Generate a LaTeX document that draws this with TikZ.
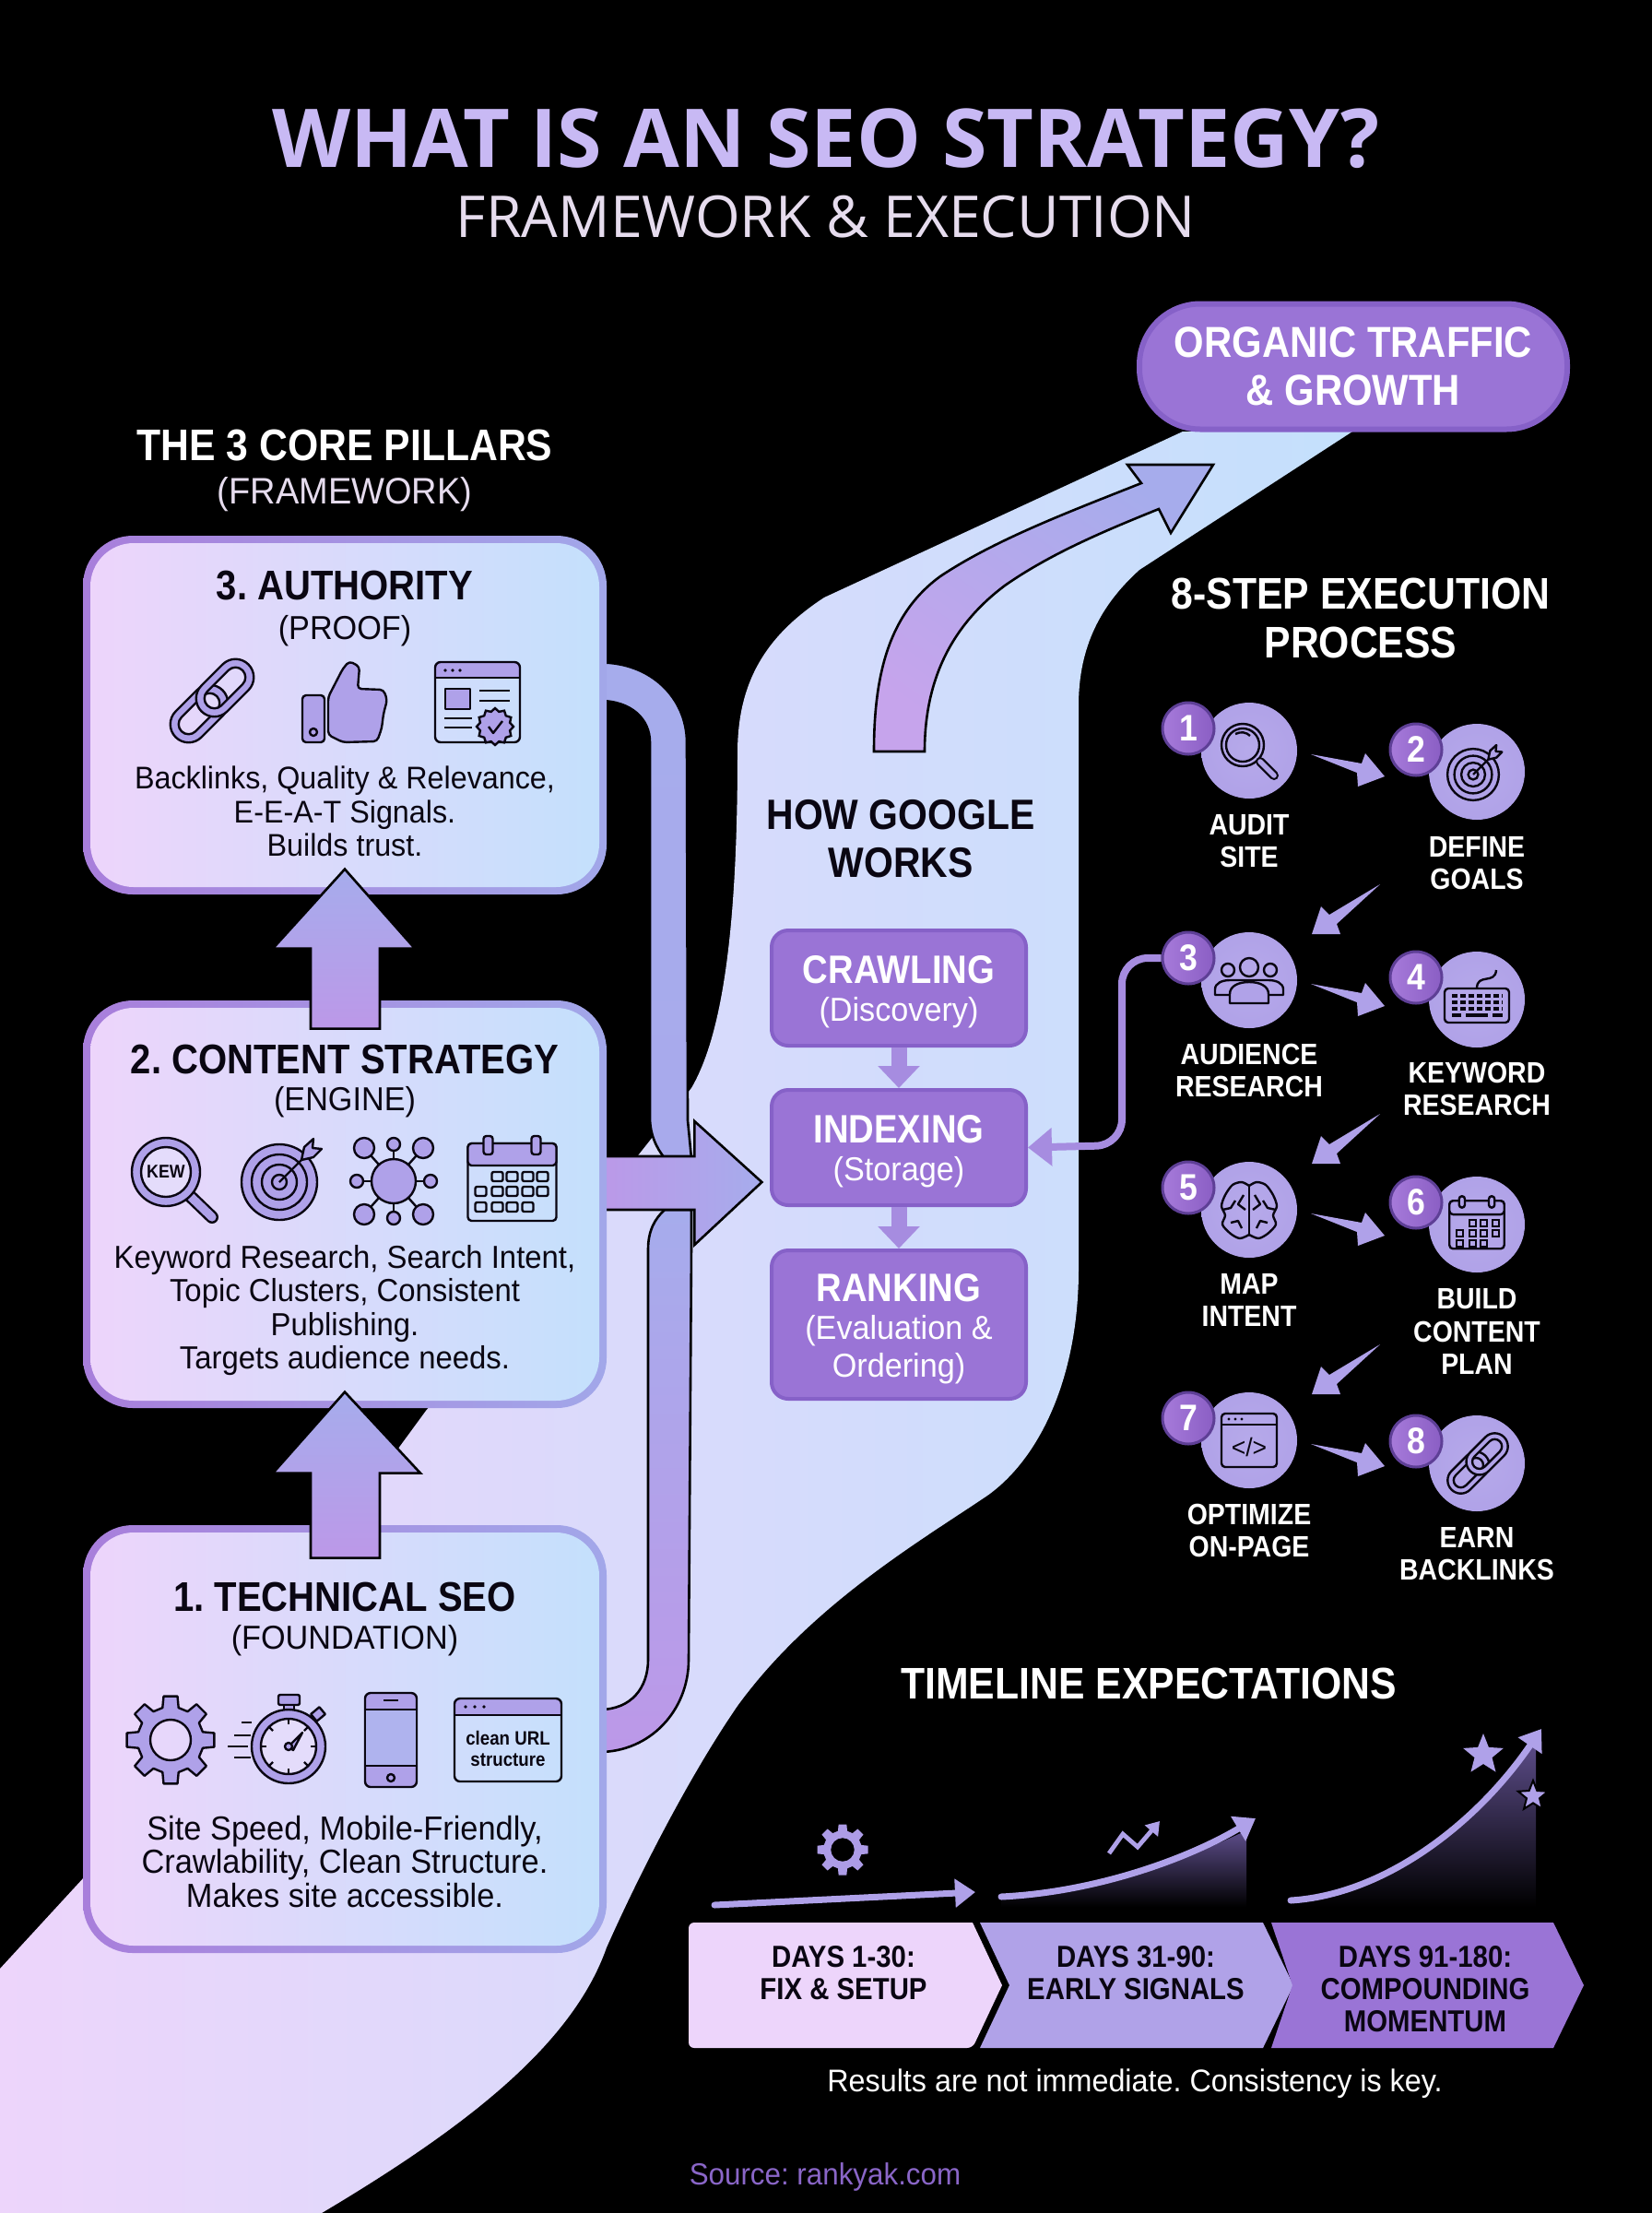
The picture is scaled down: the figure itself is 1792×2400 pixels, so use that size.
\documentclass[tikz,border=0pt]{standalone}
\usepackage{fontspec}
\setmainfont{Liberation Sans}[UprightFeatures={FakeStretch=0.95},BoldFeatures={FakeStretch=0.89}]
\newfontfamily\titlefont{Open Sans}
\frenchspacing
\usetikzlibrary{arrows.meta,shapes.geometric}
\definecolor{riverpink}{HTML}{EDD5FB}
\definecolor{riverblue}{HTML}{C4E0FC}
\definecolor{rimpurple}{HTML}{A87EDB}
\definecolor{rimblue}{HTML}{A2A7E9}
\definecolor{iconviolet}{HTML}{AFA1E9}
\definecolor{iconpale}{HTML}{E4DCFB}
\definecolor{stepviolet}{HTML}{B0A2E8}
\definecolor{stagepurple}{HTML}{9A74D6}
\definecolor{stagerim}{HTML}{8661C8}
\definecolor{bandpink}{HTML}{BC98E8}
\definecolor{bandblue}{HTML}{A6ACEC}
\definecolor{flowviolet}{HTML}{A68CE0}
\definecolor{badgelight}{HTML}{A67ADA}
\definecolor{badgedark}{HTML}{8A5EC4}
\definecolor{badgerim}{HTML}{5E3F96}
\definecolor{titlelilac}{HTML}{C8B9F4}
\definecolor{subtitlepale}{HTML}{E6DCEE}
\definecolor{sourcepurple}{HTML}{8A66C8}
\definecolor{inkblack}{HTML}{0A0612}
\definecolor{fadeviolet}{HTML}{5E4E8C}
\pgfdeclarelayer{back}
\pgfsetlayers{back,main}
\newcommand{\linkring}[1]{%
  \draw[pic actions,even odd rule] (#1-18,-22) -- (#1+18,-22) arc[start angle=-90,end angle=90,radius=22] -- (#1-18,22) arc[start angle=90,end angle=270,radius=22] -- cycle
    (#1-18,-12) -- (#1+18,-12) arc[start angle=-90,end angle=90,radius=12] -- (#1-18,12) arc[start angle=90,end angle=270,radius=12] -- cycle;}
\newcommand{\stagehead}[1]{{\bfseries\fontsize{21.5}{22}\selectfont\rule{0pt}{19.5pt}#1}}
\tikzset{
  plaintext/.style={inner sep=0pt,align=center},
  pillarhead/.style={plaintext,text=inkblack,font=\bfseries\fontsize{22.5}{26}\selectfont},
  pillarsub/.style={plaintext,text=inkblack,font=\fontsize{18}{22}\selectfont},
  pillartext/.style={plaintext,text=inkblack,font=\fontsize{17}{18.1}\selectfont},
  sectionhead/.style={plaintext,text=white,font=\bfseries\fontsize{24}{26.5}\selectfont},
  steplabel/.style={plaintext,text=white,font=\bfseries\fontsize{16}{17.7}\selectfont},
  daylabel/.style={plaintext,text=inkblack,font=\bfseries\fontsize{16.5}{17.4}\selectfont},
  pillarrim/.style={shade,left color=rimpurple,right color=rimblue,rounded corners=27pt,minimum width=284pt,inner sep=0pt},
  pillarface/.style={shade,left color=riverpink,right color=riverblue,rounded corners=23.5pt,minimum width=276pt,inner sep=0pt},
  stagebox/.style={fill=stagepurple,draw=stagerim,line width=2pt,rounded corners=9pt,minimum width=138pt,text=white,align=center,inner sep=0pt,font=\fontsize{18}{20.5}\selectfont},
  stepdisc/.style={circle,inner color=stepviolet!92!white,outer color=stepviolet,minimum size=52pt,inner sep=0pt},
  stepbadge/.style={circle,shade,left color=badgelight,right color=badgedark,draw=badgerim,line width=1.5pt,minimum size=28pt,inner sep=0pt,text=white,font=\bfseries\fontsize{20}{22}\selectfont},
  bandarrow/.style={shade,draw=black,line width=1.3pt,line join=miter},
  flowarrow/.style={draw=flowviolet,line width=8.5pt,-{Triangle[length=12pt,width=22pt]}},
  stepflow/.style={fill=iconviolet},
  iconline/.style={draw=inkblack,line width=1.2pt,line join=round},
  timearrow/.style={draw=iconviolet,line width=3.5pt,line cap=round,-{Triangle[length=11pt,width=15pt]}},
  % icons
  linkicon/.pic={\begin{scope}[rotate=45]\linkring{-22}\linkring{22}\end{scope}},
  targeticon/.pic={
    \foreach \r in {41,30,19,8} { \draw[pic actions] (0,0) circle (\r); }
    \draw[pic actions] (0,0) -- (24,-24);
    \draw[pic actions] (24,-24) -- (27,-38) -- (37,-47) -- (36,-37) -- (46,-36) -- (37,-27) -- cycle;
  },
  gearicon/.pic={
    \path[pic actions,even odd rule] (-14:36) \foreach \a in {0,45,...,315} { -- ({\a-14}:36) -- ({\a-9}:48) -- ({\a+9}:48) -- ({\a+14}:36) } -- cycle (0,0) circle (22);
  },
  calendaricon/.pic={
    \draw[pic actions,fill=none,rounded corners=2pt] (-48,-40) rectangle (48,44);
    \draw[pic actions,rounded corners=2pt] (-48,-16) -- (-48,-40) -- (48,-40) -- (48,-16) -- cycle;
    \foreach \x in {-26,26} { \draw[pic actions,rounded corners=1.5pt] (\x-5,-48) rectangle (\x+5,-28); }
  }
}
\begin{document}
\begin{tikzpicture}[x=0.5pt,y=-0.5pt]
    \useasboundingbox (0,0) rectangle (1792,2400);

    % Title
    \node[plaintext,text=titlelilac,font=\titlefont\bfseries\fontsize{44}{50}\selectfont] (title) at (896,150) {WHAT IS AN SEO STRATEGY?};
    \node[plaintext,text=subtitlepale,font=\titlefont\fontsize{31.3}{38}\selectfont] (subtitle) at (896,235) {FRAMEWORK \& EXECUTION};

    % Pillar boxes
    \foreach \n/\cy/\h in {authority/775.5/389,content/1306/442,technical/1886/464} {
        \node[pillarrim,minimum height=\h*0.5pt] (\n rim) at (374,\cy) {};
        \node[pillarface,minimum height=\h*0.5pt-8pt] (\n) at (374,\cy) {};
    }
    \node[sectionhead] (pillarstitle) at (374,483) {THE 3 CORE PILLARS};
    \node[plaintext,text=subtitlepale,font=\fontsize{20}{24}\selectfont] (pillarssub) at (374,536) {(FRAMEWORK)};

    \node[pillarhead] (authorityhead) at (374,635) {3. AUTHORITY};
    \node[pillarsub] (authoritysub) at (374,684) {(PROOF)};
    \node[pillartext] (authoritytext) at (374,880) {Backlinks, Quality \& Relevance,\\E-E-A-T Signals.\\Builds trust.};
    \node[pillarhead] (contenthead) at (374,1149) {2. CONTENT STRATEGY};
    \node[pillarsub] (contentsub) at (374,1195) {(ENGINE)};
    \node[pillartext,font=\fontsize{17.3}{18.1}\selectfont] (contenttext) at (374,1421) {Keyword Research, Search Intent,\\Topic Clusters, Consistent\\Publishing.\\Targets audience needs.};
    \node[pillarhead] (technicalhead) at (374,1732) {1. TECHNICAL SEO};
    \node[pillarsub] (technicalsub) at (374,1779) {(FOUNDATION)};
    \node[pillartext,font=\fontsize{18.1}{18.4}\selectfont] (technicaltext) at (374,2019) {Site Speed, Mobile-Friendly,\\Crawlability, Clean Structure.\\Makes site accessible.};

    % Organic traffic pill and Google stages
    \node[fill=stagepurple,draw=stagerim,line width=3pt,rounded corners=33pt,minimum width=232pt,minimum height=68pt,inner sep=0pt,align=center,text=white,font=\bfseries\fontsize{23.5}{26}\selectfont] (organic) at (1468,397.5) {ORGANIC TRAFFIC\\\& GROWTH};
    \node[sectionhead,text=inkblack,font=\bfseries\fontsize{23}{26}\selectfont] (googlehead) at (977,910) {HOW GOOGLE\\WORKS};
    \node[stagebox,minimum height=62.5pt] (crawling) at (975,1071.5) {\stagehead{CRAWLING}\\(Discovery)};
    \node[stagebox,minimum height=62.5pt] (indexing) at (975,1244.5) {\stagehead{INDEXING}\\(Storage)};
    \node[stagebox,minimum height=80.5pt] (ranking) at (975,1436.5) {\stagehead{RANKING}\\(Evaluation \&\\Ordering)};
    \draw[flowarrow] (crawling) -- (indexing);
    \draw[flowarrow] (indexing) -- (ranking);

    % Background band and pipes
    \begin{pgfonlayer}{back}
    \fill[black] (0,0) rectangle (1792,2400);
    \shade[left color=riverpink,right color=riverblue] (0,2135) -- (92,2035) -- (462,1530) -- (693,1252) -- (750,1180)
        .. controls (785,1120) and (800,1000) .. (800,817) .. controls (800,740) and (830,690) .. (894,648)
        -- (1283,468) -- (1467,468) -- (1236,618) .. controls (1195,655) and (1170,700) .. (1170,765)
        -- (1170,1377) .. controls (1170,1490) and (1130,1580) .. (1071,1622) .. controls (1000,1670) and (880,1740) .. (800,1850)
        .. controls (745,1930) and (690,2040) .. (658,2112) .. controls (620,2220) and (500,2310) .. (349,2400)
        -- (0,2400) -- cycle;
    \shade[bandarrow,bottom color=bandblue!90!bandpink,top color=bandblue] (authority.east) ++(0,-57) .. controls (706,718) and (745,757) .. (745,805)
        -- (746,1215) -- (750,1256) -- (721,1256) .. controls (712,1245) and (705,1230) .. (705,1212) -- (705,805)
        .. controls (705,780) and (685,760) .. (650,760) -- cycle;
    \shade[bandarrow,bottom color=bandpink,top color=bandblue] (technical.east) ++(0,-32) .. controls (685,1854) and (703,1830) .. (703,1800)
        -- (703,1355) .. controls (703,1335) and (710,1322) .. (721,1312) -- (750,1312) -- (750,1350) -- (747,1800)
        .. controls (747,1855) and (705,1900) .. (650,1900) -- cycle;
    \shade[bandarrow,left color=bandpink,right color=bandblue] (content.east) ++(-4,-52) -- ++(107,0) -- ++(0,-38) -- ++(73,66) -- ++(-73,68) -- ++(0,-38) -- ++(-107,0) -- cycle;
    \end{pgfonlayer}

    % Arrows between pillars
    \shade[bandarrow,bottom color=bandpink,top color=bandblue] (content.north) ++(-37,23) -- ++(0,-87) -- ++(-41,0) -- ++(78,-86) -- ++(76,86) -- ++(-38,0) -- ++(0,87) -- cycle;
    \shade[bandarrow,bottom color=bandpink,top color=bandblue] (technical.north) ++(-37,28) -- ++(0,-92) -- ++(-41,0) -- ++(78,-88) -- ++(82,88) -- ++(-44,0) -- ++(0,92) -- cycle;

    % Main growth arrow
    \shade[bandarrow,bottom color=bandpink!80!riverpink,top color=bandblue,shading angle=-35] (ranking.north |- 0,815) ++(-27,0) .. controls (948,730) and (965,665) .. (1020,625) .. controls (1080,585) and (1160,555) .. (1238,524)
        -- (1223,504) -- (1316,504) -- (1270,578) -- (1257,552) .. controls (1200,575) and (1140,600) .. (1090,635) .. controls (1030,680) and (1003,740) .. (1003,815) -- cycle;

    % Authority icons
    \pic[iconline,fill=iconviolet,scale=0.9] at (230,760) {linkicon};
    \draw[iconline,fill=iconviolet,rounded corners=2pt] (356,756) -- (372,725) -- (379,717) -- (390,723) -- (388,747) -- (416,748) -- (420,759) -- (416,774) -- (414,790) -- (409,804) -- (372,805) -- (356,797) -- cycle;
    \draw[iconline,fill=iconviolet,rounded corners=2pt] (328,754) rectangle (352,805);
    \draw[iconline] (340,794) circle (4);
    \fill[iconviolet,rounded corners=2pt] (472,718) rectangle (564,735);
    \draw[iconline,rounded corners=3pt] (472,718) rectangle (564,805);
    \draw[iconline] (472,735) -- (564,735);
    \foreach \x in {483,491,499} { \fill[inkblack] (\x,727) circle (1.8); }
    \draw[iconline,fill=iconviolet] (483,747) rectangle (510,769);
    \foreach \y in {749,760} { \draw[iconline] (520,\y) -- (553,\y); }
    \foreach \y in {779,789} { \draw[iconline] (482,\y) -- (512,\y); }
    \node[star,star points=12,star point ratio=1.2,draw=inkblack,line width=1.2pt,fill=iconviolet,minimum size=20pt,inner sep=0pt] (proofseal) at (537,788) {};
    \draw[iconline] (530,788) -- (535,795) -- (545,782);

    % Content icons
    \draw[inkblack,line width=7pt,line cap=round] (205,1296) -- (230,1320);
    \draw[iconviolet,line width=4.6pt,line cap=round] (205,1296) -- (230,1320);
    \draw[iconline,fill=iconviolet] (180,1271) circle (37);
    \draw[iconline,fill=iconpale] (180,1271) circle (27);
    \node[plaintext,text=inkblack,font=\bfseries\fontsize{10}{12}\selectfont] (kewtag) at (180,1271) {KEW};
    \pic[iconline,fill=iconviolet] at (303,1282) {targeticon};
    \foreach \dx/\dy/\r in {-32/-36/11,32/-36/11,-32/36/11,32/36/11,0/-40/7,0/40/7,-40/0/7,40/0/7} {
        \draw[iconline] (427,1281) -- ++(\dx,\dy);
        \draw[iconline,fill=iconviolet] (427+\dx,1281+\dy) circle (\r);
    }
    \draw[iconline,fill=iconviolet] (427,1281) circle (24);
    \pic[iconline,fill=iconviolet] at (555.5,1280) {calendaricon};
    \foreach \x in {-16,0,17,33} { \draw[iconline,rounded corners=1pt] (555.5+\x-6,1271) rectangle (555.5+\x+6,1281); }
    \foreach \x in {-34,-16,0,17,33} { \draw[iconline,rounded corners=1pt] (555.5+\x-6,1287) rectangle (555.5+\x+6,1297); }
    \foreach \x in {-34,-16,0,17} { \draw[iconline,rounded corners=1pt] (555.5+\x-6,1304) rectangle (555.5+\x+6,1314); }

    % Technical icons
    \pic[iconline,fill=iconviolet] at (185,1887) {gearicon};
    \draw[iconline,fill=iconviolet,rounded corners=1pt] (302,1838) rectangle (325,1849);
    \draw[iconline,fill=iconviolet] (308,1849) rectangle (319,1856);
    \draw[iconline,fill=iconviolet,rotate around={40:(345,1859)}] (339,1854) rectangle (351,1864);
    \draw[iconline,fill=iconviolet] (313,1894) circle (40);
    \draw[iconline,fill=iconpale] (313,1894) circle (30);
    \foreach \a in {0,45,...,315} { \draw[iconline] (313,1894) ++(\a:24) -- ++(\a:6); }
    \draw[iconline,fill=iconviolet] (313,1894) -- (328,1879) -- (318,1898) -- cycle;
    \draw[iconline,fill=iconviolet] (313,1894) circle (4);
    \foreach \xa/\xb/\y in {262/273/1868,254/272/1882,247/269/1894,254/272/1906} { \draw[iconline] (\xa,\y) -- (\xb,\y); }
    \draw[iconline,fill=iconviolet,rounded corners=3pt] (396,1836) rectangle (452,1938);
    \draw[iconline,fill=bandblue!85!iconpale] (396,1854) rectangle (452,1915);
    \draw[iconline] (416,1844) -- (432,1844);
    \draw[iconline] (424,1928) circle (4);
    \fill[iconviolet,rounded corners=2pt] (493,1842) rectangle (609,1860);
    \draw[iconline,rounded corners=3pt] (493,1842) rectangle (609,1932);
    \draw[iconline] (493,1860) -- (609,1860);
    \foreach \x in {505,515,525} { \fill[inkblack] (\x,1851) circle (1.8); }
    \node[plaintext,text=inkblack,font=\bfseries\fontsize{10.5}{11.5}\selectfont] (urltag) at (551,1896) {clean URL\\structure};

    % Steps
    \node[sectionhead] (stepstitle) at (1476,670) {8-STEP EXECUTION\\PROCESS};
    \foreach \i/\cx/\cy in {1/1355/814,2/1602/837,3/1355/1063,4/1602/1084,5/1355/1312,6/1602/1328,7/1355/1562,8/1602/1587} {
        \node[stepdisc] (step\i) at (\cx,\cy) {};
        \node[stepbadge] (badge\i) at (\cx-66,\cy-24) {\i};
    }
    \node[steplabel] (label1) at (1355,912) {AUDIT\\SITE};
    \node[steplabel] (label2) at (1602,936) {DEFINE\\GOALS};
    \node[steplabel] (label3) at (1355,1161) {AUDIENCE\\RESEARCH};
    \node[steplabel] (label4) at (1602,1181) {KEYWORD\\RESEARCH};
    \node[steplabel] (label5) at (1355,1410) {MAP\\INTENT};
    \node[steplabel] (label6) at (1602,1444) {BUILD\\CONTENT\\PLAN};
    \node[steplabel] (label7) at (1355,1660) {OPTIMIZE\\ON-PAGE};
    \node[steplabel] (label8) at (1602,1685) {EARN\\BACKLINKS};

    \foreach \a in {step1,step3,step5,step7} {
        \fill[stepflow] (\a) ++(67,4) -- ++(55,10) -- ++(4,-11) -- ++(21,25) -- ++(-29,11) -- ++(-1,-15) -- cycle;
    }
    \foreach \b in {step3,step5,step7} {
        \fill[stepflow] (\b) ++(68,-50) -- ++(10,-30) -- ++(9,9) -- ++(55,-33) -- ++(-47,43) -- ++(4,11) -- cycle;
    }

    % Link from step 3 back to indexing
    \coordinate (feedbend) at (1217,1242);
    \draw[draw=flowviolet,line width=4pt,rounded corners=14pt,-{Triangle[length=13pt,width=20pt]}] (badge3.west) -| (feedbend) -- (indexing.east);

    % Step icons
    \draw[iconline] (1348,808) circle (23);
    \draw[iconline] (1348,808) circle (18);
    \draw[iconline] (1340,796) .. controls (1346,793) and (1352,794) .. (1356,798);
    \draw[inkblack,line width=5pt,line cap=round] (1367,826) -- (1382,841);
    \draw[stepviolet,line width=2.8pt,line cap=round] (1367,826) -- (1382,841);
    \pic[iconline,fill=stepviolet,scale=0.68] at (1598,840) {targeticon};
    \draw[iconline] (1332,1052) circle (7);
    \draw[iconline] (1378,1052) circle (7);
    \draw[iconline] (1318,1079) -- (1318,1073) .. controls (1318,1066) and (1326,1063) .. (1334,1063) -- (1376,1063) .. controls (1384,1063) and (1392,1066) .. (1392,1073) -- (1392,1079) -- cycle;
    \draw[iconline] (1355,1049) circle (10);
    \draw[iconline,fill=stepviolet] (1334,1088) -- (1334,1078) .. controls (1334,1069) and (1344,1065) .. (1355,1065) .. controls (1366,1065) and (1376,1069) .. (1376,1078) -- (1376,1088) -- cycle;
    \draw[iconline,rounded corners=2pt] (1567,1072) rectangle (1637,1109);
    \draw[iconline] (1602,1072) .. controls (1602,1055) and (1622,1068) .. (1623,1052);
    \foreach \y in {1080,1087,1094} { \draw[inkblack,line width=1.6pt,dash pattern=on 3pt off 1.5pt] (1575,\y) -- (1630,\y); }
    \draw[inkblack,line width=1.6pt] (1590,1101) -- (1614,1101);
    \draw[inkblack,line width=1.6pt] (1575,1101) -- (1585,1101) (1619,1101) -- (1630,1101);
    \foreach \s in {1,-1} {
        \begin{scope}[shift={(step5)},xscale=\s]
            \draw[iconline] plot[smooth] coordinates {(0,-26) (-8,-30) (-18,-27) (-26,-16) (-30,-4) (-26,6) (-29,16) (-20,26) (-10,31) (0,27)};
            \draw[iconline] (-29,0) -- (-20,-2) -- (-15,-10);
            \draw[iconline] (-6,-16) -- (-12,-6) -- (-4,0);
            \draw[iconline] (-20,14) -- (-12,12) -- (-8,20);
        \end{scope}
    }
    \draw[iconline] (step5) ++(0,-26) -- ++(0,53);
    \pic[iconline,fill=stepviolet,scale=0.62] at (1602,1327) {calendaricon};
    \foreach \x/\y in {1597/1326,1609/1326,1622/1326,1583/1337,1597/1337,1609/1337,1622/1337,1583/1348,1597/1348,1609/1348} {
        \draw[inkblack,line width=1pt] (\x-3.5,\y-3.5) rectangle (\x+3.5,\y+3.5);
    }
    \draw[iconline,rounded corners=2pt] (1325,1533) rectangle (1385,1591);
    \draw[iconline] (1325,1545) -- (1385,1545);
    \foreach \x in {1333,1340,1347} { \fill[inkblack] (\x,1539) circle (1.6); }
    \node[plaintext,text=inkblack,font=\fontsize{14}{16}\selectfont] (codetag) at (1355,1569) {</>};
    \pic[iconline,fill=stepviolet,scale=0.65] at (1603,1587) {linkicon};

    % Timeline
    \node[sectionhead] (timelinetitle) at (1246,1826) {TIMELINE EXPECTATIONS};
    \pic[fill=iconviolet!90!stagepurple,scale=0.58] at (914,2006) {gearicon};
    \draw[timearrow] (775,2066) -- (1058,2052);
    \shade[top color=fadeviolet,bottom color=black] (1086,2060) .. controls (1190,2052) and (1280,2020) .. (1352,1985) -- (1352,2068) -- (1086,2068) -- cycle;
    \draw[timearrow] (1086,2057) .. controls (1190,2052) and (1290,2015) .. (1362,1972);
    \shade[top color=fadeviolet,bottom color=black] (1400,2061) .. controls (1500,2055) and (1600,1980) .. (1666,1885) -- (1666,2068) -- (1400,2068) -- cycle;
    \draw[timearrow] (1400,2061) .. controls (1500,2055) and (1600,1980) .. (1672,1875);
    \draw[draw=iconviolet,line width=2.4pt,-{Triangle[length=7pt,width=9pt]}] (1203,2010) -- (1218,1989) -- (1234,2003) -- (1258,1975);
    \node[star,star points=5,star point ratio=2.3,fill=iconviolet,minimum size=23pt,inner sep=0pt] (bigstar) at (1609,1903) {};
    \node[star,star points=5,star point ratio=2.3,fill=iconviolet,draw=black,line width=1pt,minimum size=17pt,inner sep=0pt] (smallstar) at (1663,1948) {};

    \fill[riverpink,rounded corners=3pt] (1055,2085) -- (747,2085) -- (747,2221) -- (1055,2221) [sharp corners] -- (1087,2153) -- cycle;
    \fill[stepviolet] (1063,2085) -- (1370,2085) -- (1403,2153) -- (1370,2221) -- (1063,2221) -- (1095,2153) -- cycle;
    \fill[stagepurple] (1379,2085) -- (1685,2085) -- (1718,2153) -- (1685,2221) -- (1379,2221) -- (1402,2153) -- cycle;
    \node[daylabel] (days1) at (915,2140) {DAYS 1-30:\\FIX \& SETUP};
    \node[daylabel] (days2) at (1232,2140) {DAYS 31-90:\\EARLY SIGNALS};
    \node[daylabel] (days3) at (1546,2157) {DAYS 91-180:\\COMPOUNDING\\MOMENTUM};
    \node[plaintext,text=white,font=\fontsize{17}{19}\selectfont] (timelinenote) at (1231,2260) {Results are not immediate. Consistency is key.};
    \node[plaintext,text=sourcepurple,font=\fontsize{16.5}{19}\selectfont] (source) at (895,2361) {Source: rankyak.com};
\end{tikzpicture}
\end{document}
